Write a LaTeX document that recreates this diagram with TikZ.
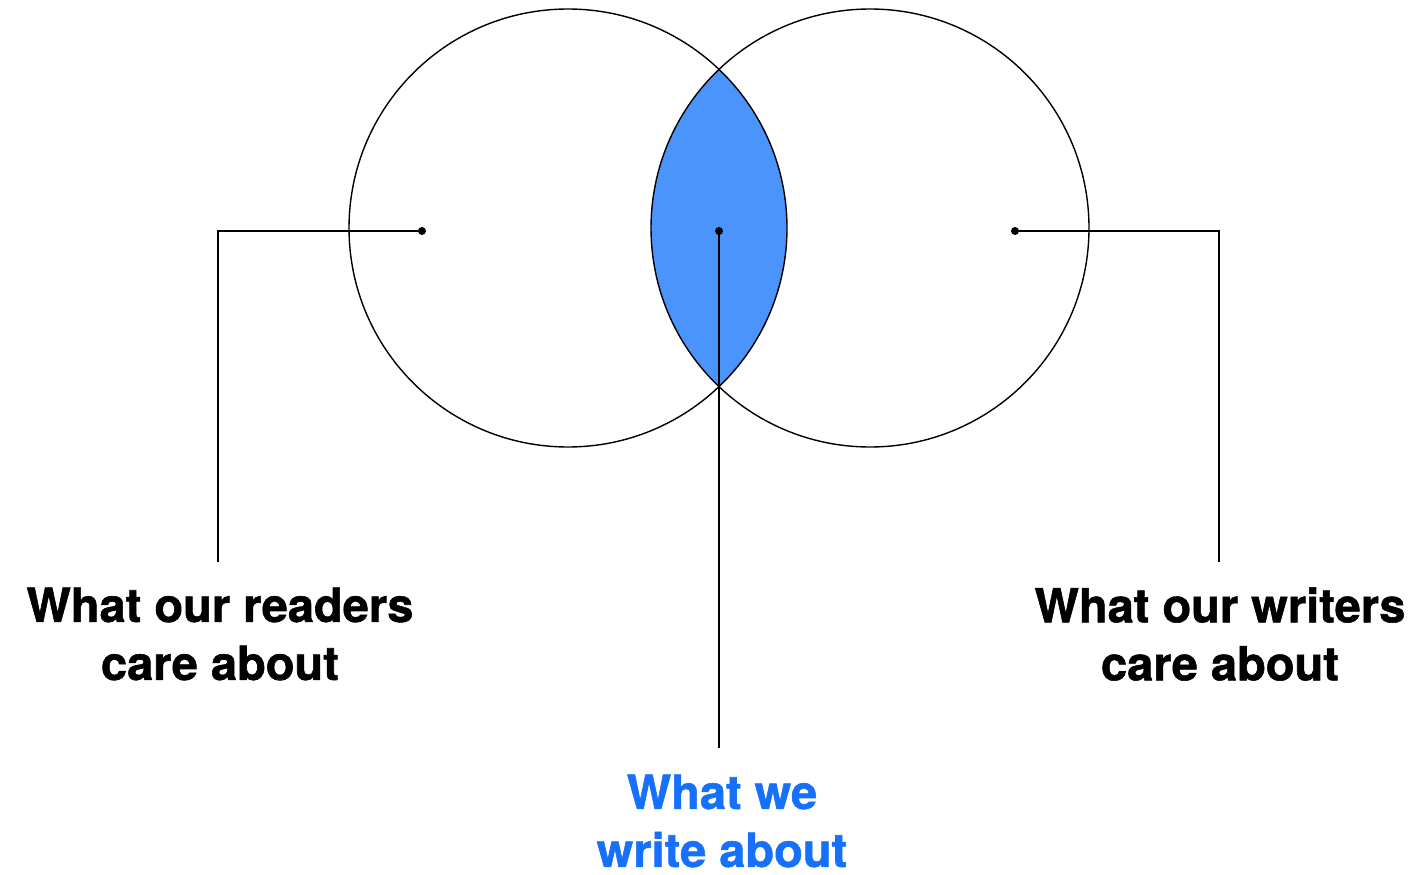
\documentclass[tikz,border=0pt]{standalone}
\usepackage{fontspec}
\setmainfont{TeX Gyre Heros}[BoldFeatures={FakeBold=1.2}]
\usetikzlibrary{positioning}
\definecolor{lensblue}{RGB}{74,148,251}
\definecolor{textblue}{RGB}{22,112,250}

\begin{document}
\begin{tikzpicture}[x=1pt,y=-1pt,
  topic/.style={font=\fontsize{47}{58}\selectfont\bfseries, align=center, inner sep=0pt},
  ring/.style={draw, line width=1.4pt},
  lead/.style={line width=1.8pt},
  dot/.style={circle, fill, inner sep=0pt, minimum size=8pt}]

  \useasboundingbox (0,0) rectangle (1416,875);

  \coordinate (readc) at (568,228);
  \coordinate (writec) at (870,228);

  % overlap of the two circles
  \begin{scope}
    \clip (readc) circle[radius=219pt];
    \fill[lensblue] (writec) circle[radius=219pt];
  \end{scope}
  \draw[ring] (readc) circle[radius=219pt];
  \draw[ring] (writec) circle[radius=219pt];

  \node[dot] (readdot) at (422,231) {};
  \node[dot] (bothdot) at (719,231) {};
  \node[dot] (writedot) at (1015,231) {};

  \node[topic] (readers) at (220,634) {What our readers\\care about};
  \node[topic] (writers) at (1220,634) {What our writers\\care about};
  \node[topic, text=textblue] (both) at (722,821) {What we\\write about};

  \coordinate (readend) at (218,562);
  \coordinate (writeend) at (1219,562);
  \coordinate (bothend) at (719,748);

  \draw[lead] (readdot.center) -| (readend);
  \draw[lead] (writedot.center) -| (writeend);
  \draw[lead] (bothdot.center) -- (bothend);
\end{tikzpicture}
\end{document}
